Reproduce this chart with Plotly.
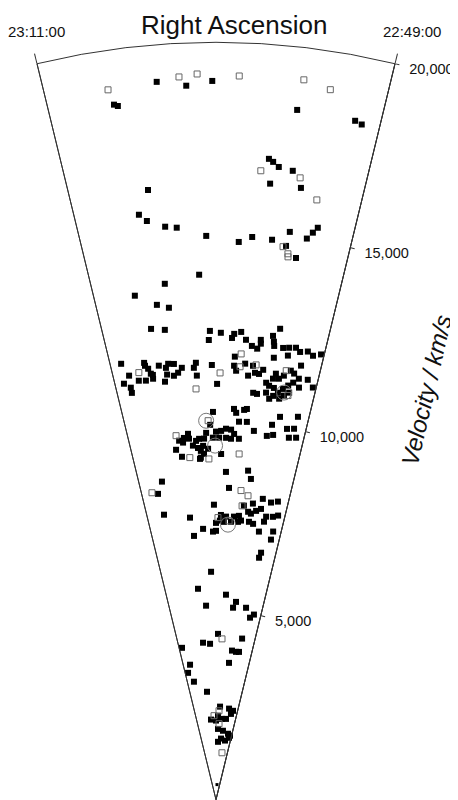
import plotly.graph_objects as go

# Right ascension in decimal degrees, velocity in km/s
RA_MID = 345.0        # 23:00:00
RA_HALF = 2.75        # 11 minutes of RA either side
HALF_SECTOR = 13.67   # plotted half-width of the wedge, degrees
STRETCH = HALF_SECTOR / RA_HALF

tick_ra = [342.25, 347.75]
tick_text = ['22:49:00', '23:11:00']
vel_ticks = [5000, 10000, 15000, 20000]

filled_ra = [
    346.68, 346.62, 345.95, 345.48, 345.06, 343.65, 342.67, 342.55,
    344.05, 343.97, 343.86, 343.60, 343.99, 343.41, 346.28, 346.51, 346.37, 346.02, 345.79, 345.20,
    344.53, 344.26, 343.85, 343.51, 343.15, 343.05, 342.97, 343.55, 343.31,
    345.37, 346.14, 346.84, 346.37, 346.10, 346.58, 346.25, 345.15, 344.88,
    345.18, 344.60, 344.55, 344.38, 344.25, 344.09, 343.95, 343.87, 343.88, 343.59, 343.44, 343.55,
    343.53, 343.30, 343.15, 342.98, 342.86, 343.15, 342.67, 342.52, 342.33, 343.50, 344.51,
    347.47, 347.33, 347.51, 347.35, 347.35, 347.10, 346.88, 346.87, 346.80, 346.75, 346.71, 346.91,
    346.51, 346.33, 346.26, 346.11, 345.91, 346.02, 346.14, 346.32, 346.40, 346.70,
    345.53, 345.59, 345.52, 345.11, 344.97, 344.52, 344.46, 344.23, 344.02, 343.95, 343.84, 344.13,
    343.74, 343.62, 343.53, 343.45, 343.39, 343.29, 343.17, 343.01, 342.77, 342.91, 342.76, 342.89,
    343.01, 343.14, 343.26, 343.38, 343.48, 343.20, 343.08, 342.95, 343.95, 343.84, 343.59, 342.52,
    342.71, 342.34, 343.39,
    345.09, 344.47, 344.40, 344.17, 344.09, 344.30, 344.06, 345.18, 345.31, 345.00, 344.84, 344.69,
    344.53, 344.43, 344.27, 344.52, 344.68, 344.90, 345.10, 345.38, 345.54, 345.64, 345.88, 346.02,
    346.18, 346.06, 345.86, 345.75, 345.59, 345.42, 345.26, 345.50, 345.40, 345.51, 346.31, 346.14,
    344.83, 343.82, 343.40, 343.21, 343.29, 343.09, 342.82, 342.61, 342.57, 342.71, 342.49,
    344.65, 343.88, 345.54, 346.94, 347.16, 345.08, 344.52, 343.75,
    346.06, 345.55, 345.96, 345.13, 345.00, 344.80, 345.00, 344.67, 344.27, 344.07, 343.97, 343.72,
    343.57, 343.60, 343.41, 343.23, 343.22, 342.89, 342.64, 342.71, 342.52, 342.98, 343.03, 343.64,
    343.46, 343.17, 342.58, 342.60, 344.38, 344.09, 344.59, 344.84, 347.08, 342.92, 342.97, 343.91,
    345.25, 345.98, 344.44, 343.84, 343.98, 343.21, 345.59, 342.67, 342.87,
    344.86, 345.95, 345.44, 343.15, 347.54, 343.77, 343.45, 343.22, 343.91, 347.19, 347.50, 347.13,
    345.96, 344.50, 343.36, 342.82, 344.73, 345.72, 345.00, 344.15, 343.58, 343.01,
    344.68, 343.84, 342.93, 342.52, 344.06, 344.60, 343.26, 342.62,
]
filled_vel = [
    18550, 18500, 19020, 18870, 18980, 18340, 18300, 18240,
    16980, 16910, 16790, 16730, 16330, 16310, 16200, 15580, 15390, 15190, 15140, 14890,
    14740, 14890, 14860, 15120, 15010, 15190, 15340, 14740, 14460,
    13870, 13690, 13480, 13160, 13050, 12550, 12480, 12380, 12330,
    12140, 12200, 12310, 12370, 12170, 12020, 11960, 12100, 12200, 12340, 12550, 12190,
    12080, 12060, 12090, 12120, 12030, 11880, 12080, 12000, 12080, 11770, 11710,
    11780, 11430, 11250, 11110, 10970, 11250, 11690, 11610, 11520, 11380, 11240, 11220,
    11560, 11480, 11580, 11560, 11440, 11320, 11250, 11300, 11120, 11340,
    11550, 11420, 11210, 11480, 10980, 11470, 11340, 11540, 11500, 11320, 11300, 11230,
    11420, 11090, 11020, 11220, 11360, 11240, 11340, 11500, 11680, 11440, 11330, 11200,
    11100, 10990, 10870, 10770, 10680, 10720, 10820, 10920, 10790, 10770, 10830, 11350,
    11100, 11180, 10980,
    10240, 10330, 10230, 10320, 10350, 10000, 10010, 9900, 9690, 9720, 9740, 9800,
    9780, 9670, 9550, 9540, 9560, 9560, 9560, 9540, 9540, 9490, 9690, 9590,
    9530, 9470, 9560, 9370, 9300, 9350, 9270, 9220, 9140, 9040, 9300, 9100,
    9130, 9790, 9700, 9750, 10010, 10250, 9970, 10010, 10340, 9750, 9790,
    8660, 8730, 9010, 8520, 8220, 7790, 8240, 8520,
    7480, 7160, 6990, 7080, 7100, 7520, 7310, 7340, 7490, 7520, 7400, 7650,
    7880, 7610, 7700, 7770, 8040, 7980, 8040, 7620, 7680, 7590, 7450, 7390,
    7350, 7170, 7240, 7020, 7350, 7360, 7480, 7370, 7650, 6630, 6490, 7800,
    6020, 5590, 5420, 5250, 5090, 5130, 5130, 4990, 4890,
    4380, 4160, 4120, 4310, 4110, 3960, 3940, 3950, 3630, 3630, 3430, 3170,
    2860, 2460, 2430, 2390, 2220, 2120, 2090, 2140, 2150, 2300,
    1870, 1830, 1770, 1730, 1620, 1530, 1580, 1670,
]

open_ra = [
    346.74, 345.59, 345.30, 344.63, 343.60, 343.16, 344.18, 343.45, 343.08, 343.61, 343.49, 343.48,
    347.06, 344.35, 344.36, 344.89, 345.56, 343.94, 343.13, 342.97,
    346.26, 345.88, 345.24, 344.23, 345.24, 347.37, 344.07, 343.79, 343.98, 344.92, 344.46,
    344.57, 344.61, 345.27, 344.54, 343.54,
]
open_vel = [
    18960, 19110, 19170, 19120, 19150, 18990, 16650, 16570, 16060, 14710, 14540, 14460,
    11460, 11790, 11450, 11270, 10860, 11530, 11480, 10840,
    9670, 9060, 9000, 9150, 10010, 8280, 8190, 8070, 7790, 7450, 7370,
    4250, 2350, 2220, 2010, 1250,
]

circle_ra = [343.09, 345.30, 345.03, 344.50]
circle_vel = [10900, 10010, 9350, 7270]

dot_ra = [344.23]
dot_vel = [400]


def to_theta(ra):
    return [90 + (r - RA_MID) * STRETCH for r in ra]


fig = go.Figure()

fig.add_trace(go.Scatterpolar(
    r=filled_vel, theta=to_theta(filled_ra), mode='markers',
    marker=dict(symbol='square', size=6, color='black', line=dict(width=0))
))
fig.add_trace(go.Scatterpolar(
    r=open_vel, theta=to_theta(open_ra), mode='markers',
    marker=dict(symbol='square-open', size=6, color='#666666', line=dict(width=1))
))
fig.add_trace(go.Scatterpolar(
    r=circle_vel, theta=to_theta(circle_ra), mode='markers',
    marker=dict(symbol='circle-open', size=15, color='#777777', line=dict(width=1))
))
fig.add_trace(go.Scatterpolar(
    r=dot_vel, theta=to_theta(dot_ra), mode='markers',
    marker=dict(symbol='square', size=3, color='black')
))

theta_lo, theta_hi = to_theta(tick_ra)
font = 'Liberation Sans, Arial, sans-serif'
ink = '#111111'

fig.update_layout(
    width=458,
    height=800,
    margin=dict(l=0, r=0, t=0, b=0),
    paper_bgcolor='white',
    showlegend=False,
    separators='.,',
    font=dict(family=font, size=15, color=ink),
    polar=dict(
        domain=dict(x=[29 / 458, 387 / 458], y=[8 / 800, 766 / 800]),
        sector=[theta_lo, theta_hi],
        bgcolor='white',
        radialaxis=dict(
            range=[0, 20000],
            angle=theta_lo,
            side='clockwise',
            tickvals=vel_ticks,
            tickformat=',d',
            tickangle=theta_lo,
            ticks='outside',
            ticklen=4,
            tickcolor='#333333',
            showgrid=False,
            showline=True,
            linecolor='#333333',
            linewidth=1,
            tickfont=dict(size=14.5, family=font, color=ink),
        ),
        angularaxis=dict(
            tickvals=[theta_lo, theta_hi],
            ticktext=tick_text,
            showticklabels=False,
            ticks='outside',
            ticklen=10,
            tickcolor='#333333',
            showgrid=True,
            gridcolor='#333333',
            gridwidth=1,
            showline=True,
            linecolor='#333333',
            linewidth=1,
        ),
    ),
    annotations=[
        dict(text='Right Ascension', x=226 / 458, y=1.0, xref='paper', yref='paper',
             xanchor='center', yanchor='top', showarrow=False,
             font=dict(size=26, family=font, color=ink)),
        # RA labels sit above the two edge ticks
        dict(text=tick_text[1], x=29 / 458, y=1 - 23 / 800, xref='paper', yref='paper',
             xanchor='center', yanchor='middle', showarrow=False,
             font=dict(size=15, family=font, color=ink)),
        dict(text=tick_text[0], x=404 / 458, y=1 - 23 / 800, xref='paper', yref='paper',
             xanchor='center', yanchor='middle', showarrow=False,
             font=dict(size=15, family=font, color=ink)),
        dict(text='<i>Velocity / km/s</i>', x=418 / 458, y=1 - 382 / 800, xref='paper', yref='paper',
             xanchor='center', yanchor='middle', showarrow=False, textangle=-77,
             font=dict(size=24, family=font, color=ink)),
    ],
)

fig.write_html('out.html')
